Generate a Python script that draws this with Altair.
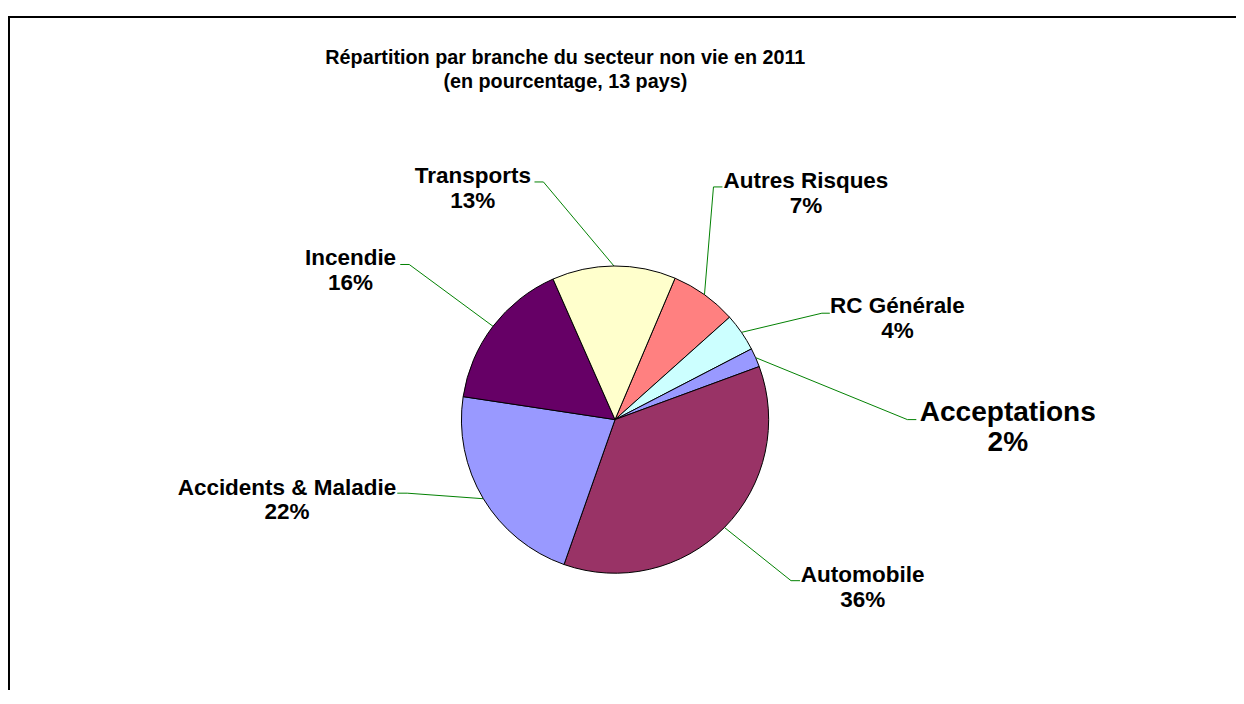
import math
import numpy as np
import pandas as pd
import altair as alt

# ---------------- data ----------------
categories = ["Autres Risques", "RC Générale", "Acceptations", "Automobile",
              "Accidents & Maladie", "Incendie", "Transports"]
values = [7, 4, 2, 36, 22, 16, 13]
colors = ["#FF8080", "#CCFFFF", "#9999FF", "#993366", "#9999FF", "#660066", "#FFFFCC"]
title_lines = ["Répartition par branche du secteur non vie en 2011",
               "(en pourcentage, 13 pays)"]

# ---------------- layout / style ----------------
W, H = 1235, 684          # plot area
CX, CY = 610.5, 412       # pie centre inside plot area
R = 154.5                 # pie radius (px)
START_DEG = 23.0          # rotation of first slice
FONT = "Liberation Sans"
LABEL_SIZE = 22.6
# leader elbow, leader end, text anchor (px offsets from pie centre), line gap, font size
label_layout = {
    "Autres Risques":      dict(elbow=(99, -234), end=(108, -234), text=(192, -233), gap=25, size=LABEL_SIZE),
    "RC Générale":         dict(elbow=(208, -107), end=(216, -107), text=(284, -107), gap=25, size=LABEL_SIZE),
    "Acceptations":        dict(elbow=(294, 0), end=(303, 0), text=(395, 1), gap=31, size=28.2),
    "Automobile":          dict(elbow=(177, 162), end=(186, 162), text=(249, 163), gap=25, size=LABEL_SIZE),
    "Accidents & Maladie": dict(elbow=(-209, 74), end=(-219, 74), text=(-330, 76), gap=24, size=LABEL_SIZE),
    "Incendie":            dict(elbow=(-207, -156), end=(-216, -156), text=(-266, -155), gap=25, size=LABEL_SIZE),
    "Transports":          dict(elbow=(-72, -239), end=(-81, -239), text=(-143, -238), gap=25, size=LABEL_SIZE),
}
title_layout = dict(x=-50, y=-358, gap=25, size=19.9)

xs = alt.Scale(domain=[-CX, W - CX], nice=False, zero=False)
ys = alt.Scale(domain=[-CY, H - CY], nice=False, zero=False, reverse=True)

# ---------------- tables ----------------
pie_df = pd.DataFrame({"category": categories, "value": values, "idx": range(len(values))})

start = math.radians(START_DEG)
vals = np.array(values, dtype=float)
mids = start + 2 * math.pi * (np.cumsum(vals) - vals / 2) / vals.sum()

lead_rows, text_rows = [], []
for cat, v, m in zip(categories, values, mids):
    L = label_layout[cat]
    pts = [(R * math.sin(m), -R * math.cos(m)), L["elbow"], L["end"]]
    for s, (px, py) in enumerate(pts):
        lead_rows.append({"category": cat, "step": s, "x": px, "y": py})
    tx, ty = L["text"]
    text_rows.append({"t": cat, "x": tx, "y": ty, "size": L["size"]})
    text_rows.append({"t": f"{v}%", "x": tx, "y": ty + L["gap"], "size": L["size"]})
for i, line in enumerate(title_lines):
    text_rows.append({"t": line, "x": title_layout["x"],
                      "y": title_layout["y"] + i * title_layout["gap"], "size": title_layout["size"]})

lead_df = pd.DataFrame(lead_rows)
text_df = pd.DataFrame(text_rows)

# ---------------- layers ----------------
frame_v = alt.Chart(pd.DataFrame({"a": [0]})).mark_rule(color="#000000", strokeWidth=2).encode(
    x=alt.value(1), y=alt.value(7), y2=alt.value(H))
frame_h = alt.Chart(pd.DataFrame({"a": [0]})).mark_rule(color="#000000", strokeWidth=2).encode(
    x=alt.value(0), x2=alt.value(W), y=alt.value(7))

leaders = alt.Chart(lead_df).mark_line(color="#008000", strokeWidth=1).encode(
    x=alt.X("x:Q", scale=xs, axis=None),
    y=alt.Y("y:Q", scale=ys, axis=None),
    detail="category:N",
    order="step:Q",
)

pie = alt.Chart(pie_df).mark_arc(outerRadius=R, stroke="#000000", strokeWidth=1).encode(
    theta=alt.Theta("value:Q", stack=True,
                    scale=alt.Scale(range=[start, start + 2 * math.pi])),
    color=alt.Color("category:N", scale=alt.Scale(domain=categories, range=colors), legend=None),
    order=alt.Order("idx:Q"),
    x=alt.X(datum=0, type="quantitative", scale=xs, axis=None),
    y=alt.Y(datum=0, type="quantitative", scale=ys, axis=None),
)

texts = alt.Chart(text_df).mark_text(font=FONT, fontWeight="bold", align="center",
                                     baseline="alphabetic", color="#000000").encode(
    x=alt.X("x:Q", scale=xs, axis=None),
    y=alt.Y("y:Q", scale=ys, axis=None),
    text="t:N",
    size=alt.Size("size:Q", scale=None),
)

chart = alt.layer(frame_v, frame_h, leaders, pie, texts).properties(
    width=W, height=H, padding=0,
    autosize=alt.AutoSizeParams(type="none"),
    background="#FFFFFF",
).configure_view(stroke=None)

chart.save("out.html", embed_options={"renderer": "svg", "actions": False})
